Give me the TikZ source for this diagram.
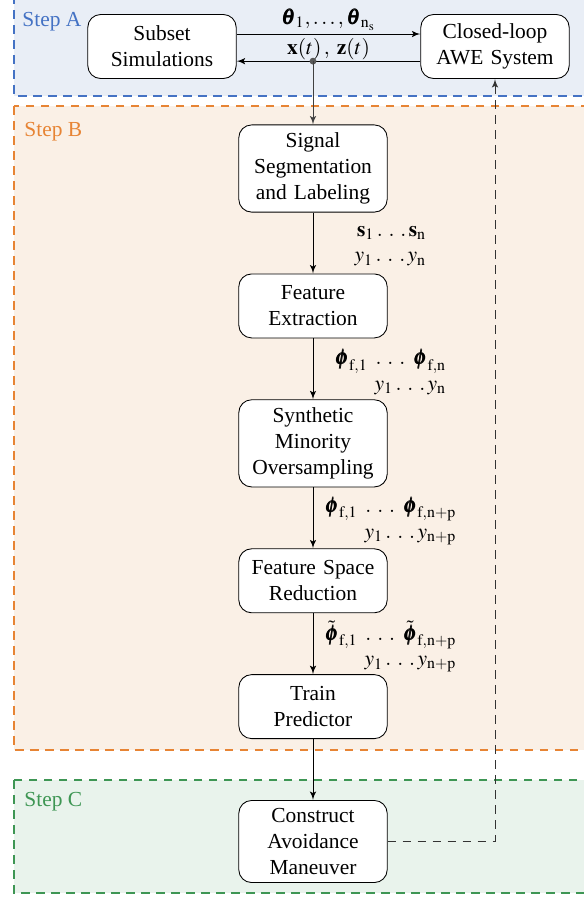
\documentclass[tikz,border=0pt]{standalone}
\usepackage{amsmath}
\usepackage{mathptmx}
\usepackage{bm}
\usepackage{fontspec}
\setmainfont{Liberation Serif}
\usepackage{xcolor}
\usepackage{tikz}
\usetikzlibrary{arrows,positioning}

\definecolor{stepAline}{RGB}{68,114,196}
\definecolor{stepAfill}{RGB}{233,238,246}
\definecolor{stepBline}{RGB}{231,132,52}
\definecolor{stepBfill}{RGB}{250,240,230}
\definecolor{stepCline}{RGB}{62,150,84}
\definecolor{stepCfill}{RGB}{233,243,236}

\newcommand{\sdots}{\mathinner{{.}\mkern5mu{.}\mkern5mu{.}}}

\begin{document}
\begin{tikzpicture}[
    x=0.0164cm, y=-0.0164cm,
    node distance=1cm,
    process/.style={rectangle, draw, fill=white, text width=2.2cm, align=center, rounded corners=6pt, minimum width=2.35cm, minimum height=1.05cm, inner ysep=3.8pt},
    stepframe/.style={draw, dash pattern=on 4pt off 3pt, line width=0.9pt},
    steplabel/.style={anchor=north west, inner sep=0pt},
    line/.style={draw, -latex'},
    feedback/.style={draw=black!80, dash pattern=on 4pt off 3pt, -latex'},
    datalabel/.style={midway, xshift=1.27cm, yshift=-0.05cm, align=right}
]

\useasboundingbox (0,0) rectangle (584,898);
\clip (0,0) rectangle (584,898);

% step frames
\draw [stepframe, draw=stepAline, fill=stepAfill] (14,-20) rectangle (640,96);
\draw [stepframe, draw=stepBline, fill=stepBfill] (14,106) rectangle (640,750);
\draw [stepframe, draw=stepCline, fill=stepCfill] (14,780) rectangle (640,893);
\node [steplabel, text=stepAline] (labelA) at (22,12) {Step A};
\node [steplabel, text=stepBline] (labelB) at (24,122) {Step B};
\node [steplabel, text=stepCline] (labelC) at (24,792) {Step C};

% step A
\node [process] (subset) at (162,46.5) {Subset\\Simulations};
\node [process] (closed) at (495,46.5) {Closed-loop\\AWE System};

\coordinate (fwdstart) at ([yshift=0.205cm]subset.east);
\coordinate (backstart) at ([yshift=-0.24cm]closed.west);
\path [line] (fwdstart) -- node[above, inner sep=1.5pt] {$\bm{\theta}_1, \ldots, \bm{\theta}_{\mathrm{n_s}}$} (fwdstart -| closed.west);
\path [line] (backstart) -- node[above, inner sep=0.5pt] {$\mathbf{x}(t)\,,\; \mathbf{z}(t)$} (backstart -| subset.east);

% step B
\node [process] (signal) at (313,168.5) {Signal\\Segmentation\\and Labeling};
\node [process, below=of signal] (feature) {Feature\\Extraction};
\node [process, below=of feature] (smote) {Synthetic\\Minority\\Oversampling};
\node [process, below=of smote] (reduction) {Feature Space\\Reduction};
\node [process, below=of reduction] (train) {Train\\Predictor};

% step C
\node [process, below=of train] (maneuver) {Construct\\Avoidance\\Maneuver};

\coordinate (tap) at (backstart -| signal.north);
\fill [black!65] (tap) circle (1.6pt);
\path [line, draw=black!75] (tap) -- (signal);

\path [line] (signal) -- node[datalabel] {$\mathbf{s}_1 \sdots \mathbf{s}_{\mathrm{n}}$\\ $y_1 \sdots y_{\mathrm{n}}$} (feature);
\path [line] (feature) -- node[datalabel] {$\bm{\phi}_{\mathrm{f},1}\ \sdots\ \bm{\phi}_{\mathrm{f},\mathrm{n}}$\\ $y_1 \sdots y_{\mathrm{n}}$} (smote);
\path [line] (smote) -- node[datalabel] {$\bm{\phi}_{\mathrm{f},1}\ \sdots\ \bm{\phi}_{\mathrm{f},\mathrm{n+p}}$\\ $y_1 \sdots y_{\mathrm{n+p}}$} (reduction);
\path [line] (reduction) -- node[datalabel] {$\tilde{\bm{\phi}}_{\mathrm{f},1}\ \sdots\ \tilde{\bm{\phi}}_{\mathrm{f},\mathrm{n+p}}$\\ $y_1 \sdots y_{\mathrm{n+p}}$} (train);
\path [line] (train) -- (maneuver);

\path [feedback] (maneuver.east) -| (closed.south);
\end{tikzpicture}
\end{document}
